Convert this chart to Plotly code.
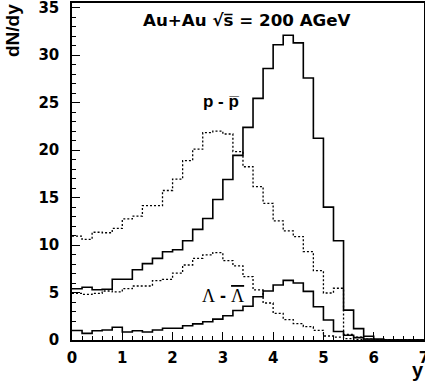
import plotly.graph_objects as go

# Rapidity binning: 35 bins of width 0.2 from y = 0 to y = 7
bin_width = 0.2
n_bins = 35
bin_edges = [round(i * bin_width, 1) for i in range(n_bins + 1)]

# Net proton (p - pbar) dN/dy, solid histogram
net_p_solid = [5.40, 5.55, 5.30, 5.35, 6.40, 6.40, 7.40, 8.05, 8.60, 9.30,
               9.50, 10.45, 11.65, 12.80, 14.80, 16.90, 19.45, 22.40, 25.45, 28.60,
               31.10, 32.10, 31.30, 27.60, 21.25, 14.00, 10.45, 3.15, 1.20, 0.40,
               0.10, 0.0, 0.0, 0.0, 0.0]

# Net proton (p - pbar) dN/dy, dotted histogram
net_p_dotted = [10.95, 10.60, 11.35, 11.30, 11.75, 12.75, 13.05, 14.15, 14.15, 15.75,
                16.95, 18.90, 20.10, 21.85, 22.00, 21.70, 19.85, 18.25, 16.15, 14.40,
                12.55, 11.50, 10.90, 9.30, 7.30, 4.95, 5.45, 0.60, 0.30, 0.10,
                0.0, 0.0, 0.0, 0.0, 0.0]

# Net lambda (Lambda - Lambdabar) dN/dy, solid histogram
net_lam_solid = [1.00, 0.70, 0.98, 1.05, 1.34, 0.84, 0.98, 0.84, 1.05, 1.23,
                 1.23, 1.50, 1.70, 1.93, 2.20, 2.55, 3.10, 3.55, 4.56, 5.16,
                 5.80, 6.28, 6.00, 5.12, 3.51, 2.10, 0.90, 0.50, 0.25, 0.10,
                 0.0, 0.0, 0.0, 0.0, 0.0]

# Net lambda (Lambda - Lambdabar) dN/dy, dotted histogram
net_lam_dotted = [4.92, 4.81, 4.92, 5.16, 5.06, 5.41, 5.69, 5.69, 6.25, 6.39,
                  7.05, 7.90, 8.60, 8.96, 9.20, 8.36, 7.80, 6.67, 5.27, 3.90,
                  2.81, 2.15, 1.72, 1.40, 1.02, 0.42, 0.30, 0.15, 0.05, 0.0,
                  0.0, 0.0, 0.0, 0.0, 0.0]

x_ticks = [0, 1, 2, 3, 4, 5, 6, 7]
y_ticks = [0, 5, 10, 15, 20, 25, 30, 35]

W, H = 425, 381
M_L, M_R, M_T, M_B = 72, 1, 3, 41
PW, PH = W - M_L - M_R, H - M_T - M_B

SANS = "Liberation Sans, Arial, Helvetica, sans-serif"
WIDE = "DejaVu Sans, Verdana, sans-serif"


def step_trace(values, dash):
    return go.Scatter(
        x=bin_edges,
        y=values + [values[-1]],
        mode="lines",
        line=dict(shape="hv", color="black", width=1.6 if dash == "solid" else 1.3,
                  dash=dash),
        showlegend=False,
        hoverinfo="skip",
    )


fig = go.Figure()
fig.add_trace(step_trace(net_p_dotted, "2px,2px"))
fig.add_trace(step_trace(net_lam_dotted, "2px,2px"))
fig.add_trace(step_trace(net_p_solid, "solid"))
fig.add_trace(step_trace(net_lam_solid, "solid"))


def px_to_paper(px, py):
    return (px - M_L) / PW, (H - M_B - py) / PH


def label(text, px, py, size, family=SANS, angle=0, xanchor="center"):
    x, y = px_to_paper(px, py)
    fig.add_annotation(
        text=text, x=x, y=y, xref="paper", yref="paper",
        xanchor=xanchor, yanchor="middle", showarrow=False, textangle=angle,
        font=dict(family=family, size=size, color="black", weight="bold"),
    )


LAM = '<span style="font-family:Liberation Serif;font-weight:normal">\u039b</span>'
LAM_BAR = ('<span style="font-family:Liberation Serif;font-weight:normal;'
           'text-decoration:overline">\u039b</span>')

label("Au+Au \u221as\u0305 = 200 AGeV", 247, 20, 16.7, family=WIDE)
label("p - p\u0305", 221, 101, 17)
label(LAM + " - " + LAM_BAR, 223, 296, 18)
label("dN/dy", 13, 31, 19, angle=-90)
label("y", 418, 370, 20)

axis_common = dict(
    showgrid=False, zeroline=False, showline=True, linecolor="black",
    linewidth=1.5, mirror=True, ticks="inside", ticklen=8, tickwidth=1,
    tickcolor="black", automargin=False, ticklabeloverflow="allow",
    tickfont=dict(family=WIDE, size=15, color="black", weight="bold"),
)

fig.update_xaxes(range=[0, 7], tickmode="array", tickvals=x_ticks,
                 ticklabelstandoff=3,
                 minor=dict(dtick=bin_width, ticks="inside", ticklen=4,
                            tickcolor="black", tickwidth=1),
                 **axis_common)
fig.update_yaxes(range=[0, 35.5], tickmode="array", tickvals=y_ticks,
                 ticklabelstandoff=8,
                 minor=dict(dtick=1, ticks="inside", ticklen=4,
                            tickcolor="black", tickwidth=1),
                 **axis_common)

fig.update_layout(
    width=W, height=H,
    margin=dict(l=M_L, r=M_R, t=M_T, b=M_B, pad=0),
    plot_bgcolor="white", paper_bgcolor="white",
    showlegend=False,
)

fig.write_html("out.html")
